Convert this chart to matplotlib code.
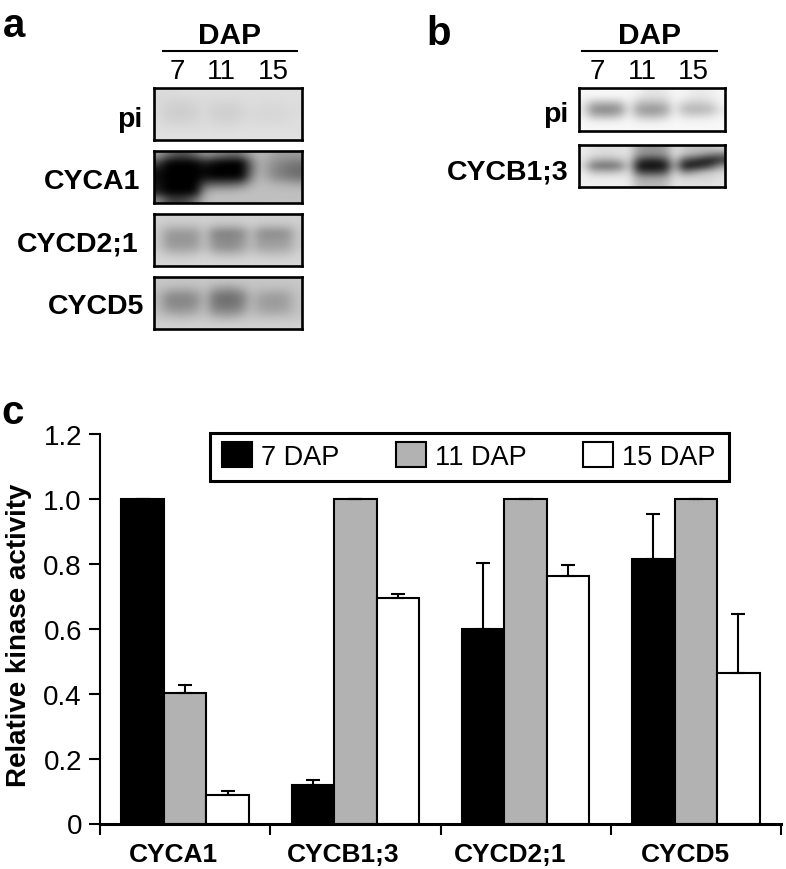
import matplotlib
matplotlib.use("Agg")
import matplotlib.pyplot as plt
from matplotlib.patches import Patch, Rectangle
from matplotlib.lines import Line2D

plt.rcParams['font.family'] = ['Liberation Sans', 'DejaVu Sans']

W, H = 786, 870

# --- bar chart data ---
categories = ['CYCA1', 'CYCB1;3', 'CYCD2;1', 'CYCD5']
series_names = ['7 DAP', '11 DAP', '15 DAP']
dap7 = [1.0, 0.118, 0.60, 0.816]
dap11 = [0.402, 1.0, 1.0, 1.0]
dap15 = [0.088, 0.694, 0.764, 0.465]
err7 = [0.0, 0.015, 0.204, 0.136]
err11 = [0.024, 0.0, 0.0, 0.0]
err15 = [0.011, 0.014, 0.031, 0.179]
yticks = [0, 0.2, 0.4, 0.6, 0.8, 1.0, 1.2]
yticklabels = ['0', '0.2', '0.4', '0.6', '0.8', '1.0', '1.2']

# --- blot densitometry, coarse grids (0 = black film, 1 = white) ---
a_pi = [
    [.86, .86, .86, .87, .87, .87, .87, .87, .87, .87, .87, .87, .87, .87, .87, .87],
    [.85, .84, .84, .84, .85, .86, .85, .85, .85, .86, .87, .86, .86, .86, .87, .87],
    [.85, .82, .81, .81, .83, .85, .83, .82, .82, .84, .86, .85, .85, .85, .86, .86],
    [.85, .81, .80, .80, .82, .85, .82, .81, .81, .83, .85, .84, .84, .84, .85, .86],
    [.86, .83, .83, .83, .84, .86, .84, .83, .83, .85, .86, .85, .85, .85, .86, .87],
    [.87, .86, .86, .86, .86, .87, .86, .86, .86, .87, .87, .87, .87, .87, .87, .87],
    [.88, .88, .88, .88, .88, .88, .88, .88, .88, .88, .88, .88, .88, .88, .88, .88],
]
a_cyca1 = [
    [.62, .45, .35, .35, .45, .60, .55, .50, .45, .50, .65, .72, .68, .62, .62, .62],
    [.30, .02, .00, .00, .02, .15, .05, .00, .00, .00, .45, .70, .60, .55, .50, .48],
    [.08, .00, .00, .00, .00, .02, .00, .00, .00, .00, .40, .70, .58, .50, .45, .42],
    [.05, .00, .00, .00, .00, .05, .00, .00, .00, .02, .50, .72, .60, .52, .48, .45],
    [.08, .00, .00, .00, .00, .35, .40, .40, .42, .48, .66, .74, .72, .70, .68, .66],
    [.10, .00, .00, .00, .02, .62, .72, .72, .72, .74, .75, .75, .75, .75, .75, .75],
    [.55, .30, .25, .30, .45, .72, .75, .75, .75, .75, .75, .75, .75, .75, .75, .75],
]
a_cycd21 = [
    [.82, .82, .82, .82, .82, .82, .82, .82, .82, .82, .82, .82, .82, .82, .82, .82],
    [.80, .76, .76, .76, .76, .80, .76, .74, .74, .76, .80, .76, .76, .76, .76, .80],
    [.78, .62, .60, .60, .62, .76, .52, .50, .50, .54, .74, .56, .54, .54, .58, .78],
    [.78, .60, .58, .58, .60, .76, .56, .54, .54, .58, .74, .60, .60, .60, .62, .78],
    [.78, .64, .62, .62, .64, .76, .60, .56, .56, .62, .74, .64, .64, .64, .66, .78],
    [.82, .78, .76, .76, .78, .82, .76, .74, .74, .76, .80, .78, .76, .76, .78, .82],
    [.84, .84, .84, .84, .84, .84, .84, .84, .84, .84, .84, .84, .84, .84, .84, .84],
]
a_cycd5 = [
    [.78, .78, .78, .78, .78, .78, .78, .78, .78, .78, .78, .78, .78, .78, .78, .78],
    [.76, .72, .70, .70, .72, .76, .66, .62, .62, .68, .76, .74, .74, .74, .74, .78],
    [.72, .56, .54, .54, .58, .72, .48, .44, .44, .50, .72, .66, .62, .62, .66, .76],
    [.72, .54, .52, .52, .56, .72, .48, .44, .44, .50, .72, .62, .60, .60, .64, .76],
    [.74, .62, .60, .60, .64, .74, .54, .52, .52, .58, .74, .66, .64, .64, .68, .76],
    [.78, .76, .74, .74, .76, .78, .72, .70, .70, .74, .78, .76, .76, .76, .76, .78],
    [.82, .82, .82, .82, .82, .82, .82, .82, .82, .82, .82, .82, .82, .82, .82, .82],
]
b_pi = [
    [.97, .97, .97, .97, .97, .97, .95, .90, .90, .92, .97, .96, .92, .92, .93, .97],
    [.96, .95, .95, .95, .95, .96, .90, .86, .86, .88, .96, .94, .90, .90, .92, .96],
    [.92, .72, .70, .70, .74, .94, .74, .72, .72, .76, .95, .82, .80, .80, .84, .95],
    [.90, .56, .52, .52, .58, .92, .62, .58, .58, .64, .94, .72, .70, .70, .74, .90],
    [.93, .72, .70, .70, .76, .94, .76, .72, .72, .78, .95, .86, .84, .84, .88, .94],
    [.97, .95, .94, .94, .95, .97, .93, .92, .92, .94, .97, .96, .96, .96, .96, .97],
    [.97, .97, .97, .97, .97, .97, .97, .97, .97, .97, .97, .97, .97, .97, .97, .97],
]
b_cycb13 = [
    [.92, .88, .86, .86, .88, .88, .62, .58, .58, .62, .88, .78, .76, .76, .78, .84],
    [.92, .88, .86, .86, .88, .88, .60, .56, .56, .60, .88, .76, .70, .64, .55, .50],
    [.90, .72, .68, .68, .74, .86, .30, .20, .20, .30, .80, .35, .25, .15, .08, .20],
    [.85, .46, .42, .42, .48, .82, .06, .03, .03, .07, .72, .08, .08, .15, .30, .60],
    [.92, .76, .74, .74, .78, .88, .32, .26, .26, .34, .84, .52, .60, .72, .78, .84],
    [.94, .92, .92, .92, .92, .90, .66, .64, .64, .66, .88, .84, .84, .84, .84, .88],
    [.95, .94, .94, .94, .94, .92, .72, .72, .72, .74, .90, .88, .88, .88, .88, .90],
]

fig = plt.figure(figsize=(W / 100, H / 100), dpi=100)


def px_axes(x0, y0, x1, y1):
    """Axes from pixel box measured from the top-left of the figure."""
    return fig.add_axes([x0 / W, 1 - y1 / H, (x1 - x0) / W, (y1 - y0) / H])


def ftext(x, y, s, **kw):
    fig.text(x / W, 1 - y / H, s, **kw)


def blot(grid, x0, y0, x1, y1):
    ax = px_axes(x0, y0, x1, y1)
    ax.imshow(grid, cmap='gray', vmin=0, vmax=1, aspect='auto', interpolation='bicubic')
    ax.set_xticks([])
    ax.set_yticks([])
    for s in ax.spines.values():
        s.set_linewidth(1.9)


# panel letters
ftext(3, 37, 'a', fontsize=29, fontweight='bold', ha='left', va='baseline')
ftext(426, 45, 'b', fontsize=29, fontweight='bold', ha='left', va='baseline')
ftext(1, 424, 'c', fontsize=29, fontweight='bold', ha='left', va='baseline')

# panel a
a_boxes = [(154, 89, 302, 141), (154, 152, 302, 204), (154, 215, 302, 267), (154, 278, 302, 330)]
a_grids = [a_pi, a_cyca1, a_cycd21, a_cycd5]
a_labels = ['pi', 'CYCA1', 'CYCD2;1', 'CYCD5']
a_right = [142, 140, 138, 144]
a_drop = [12, 11, 11, 10]
for box, grid, lab, r, d in zip(a_boxes, a_grids, a_labels, a_right, a_drop):
    blot(grid, *box)
    ftext(r, (box[1] + box[3]) / 2 + d, lab, fontsize=20.5, fontweight='bold', ha='right', va='baseline')

# panel b
b_boxes = [(579, 89, 725, 132), (579, 146, 725, 188)]
b_grids = [b_pi, b_cycb13]
b_labels = ['pi', 'CYCB1;3']
b_drop = [11.5, 13]
for box, grid, lab, d in zip(b_boxes, b_grids, b_labels, b_drop):
    blot(grid, *box)
    ftext(568, (box[1] + box[3]) / 2 + d, lab, fontsize=20.5, fontweight='bold', ha='right', va='baseline')

# DAP headers
for xc, x0, x1, xs in [(229, 163, 297, (177, 221, 273)), (649, 582, 717, (597, 642, 693))]:
    ftext(xc, 44, 'DAP', fontsize=21.5, fontweight='bold', ha='center', va='baseline')
    fig.add_artist(Line2D([x0 / W, x1 / W], [1 - 52 / H] * 2, color='black', lw=1.5))
    for x, s in zip(xs, ['7', '11', '15']):
        ftext(x, 79, s, fontsize=20, ha='center', va='baseline')

# panel c
ax = px_axes(100, 435, 781, 824.5)
w = 0.25
pos = list(range(len(categories)))
ekw = dict(ecolor='black', elinewidth=1.5, capsize=5, capthick=1.5)
ax.bar([p - w for p in pos], dap7, w, color='black', edgecolor='black', linewidth=1.5,
       yerr=[[0] * 4, err7], error_kw=ekw, label=series_names[0])
ax.bar(pos, dap11, w, color='#b2b2b2', edgecolor='black', linewidth=1.5,
       yerr=[[0] * 4, err11], error_kw=ekw, label=series_names[1])
ax.bar([p + w for p in pos], dap15, w, color='white', edgecolor='black', linewidth=1.5,
       yerr=[[0] * 4, err15], error_kw=ekw, label=series_names[2])
ax.set_xlim(-0.5, 3.5)
ax.set_ylim(0, 1.2)
ax.set_yticks(yticks, yticklabels, fontsize=20)
ax.set_xticks([-0.5, 0.5, 1.5, 2.5, 3.5], [''] * 5)
# the labels sit a little left of each group's centre in the reference
label_shift = [-0.066, -0.069, -0.091, -0.062]
ax.set_xticks([p + s for p, s in zip(pos, label_shift)], categories, minor=True,
              fontsize=19, fontweight='bold')
ax.tick_params(axis='x', which='minor', length=0, pad=13)
ax.tick_params(axis='x', which='major', length=8, width=1.5)
ax.tick_params(axis='y', length=8, width=1.5, pad=5)
ax.spines['top'].set_visible(False)
ax.spines['right'].set_visible(False)
ax.spines['left'].set_linewidth(1.5)
ax.spines['bottom'].set_linewidth(2.2)
ftext(19, 635, 'Relative kinase activity', fontsize=20, fontweight='bold', rotation=90,
      ha='center', va='center')

# legend: frame drawn separately because its side and top margins differ
ax.add_patch(Rectangle((210 / W, 1 - 482 / H), 519 / W, 48 / H, transform=fig.transFigure,
                       facecolor='white', edgecolor='black', linewidth=2.2, clip_on=False, zorder=4))
handles = [Patch(facecolor=c, edgecolor='black', linewidth=1.5) for c in ('black', '#b2b2b2', 'white')]
leg = ax.legend(handles, series_names, ncol=3, loc='upper left',
                bbox_to_anchor=(222 / W, 1 - 443 / H), bbox_transform=fig.transFigure,
                fontsize=19.5, handlelength=1.1, handleheight=1.07, handletextpad=0.33,
                columnspacing=2.1, borderpad=0, borderaxespad=0, frameon=False)

fig.savefig('out.png', dpi=100)
